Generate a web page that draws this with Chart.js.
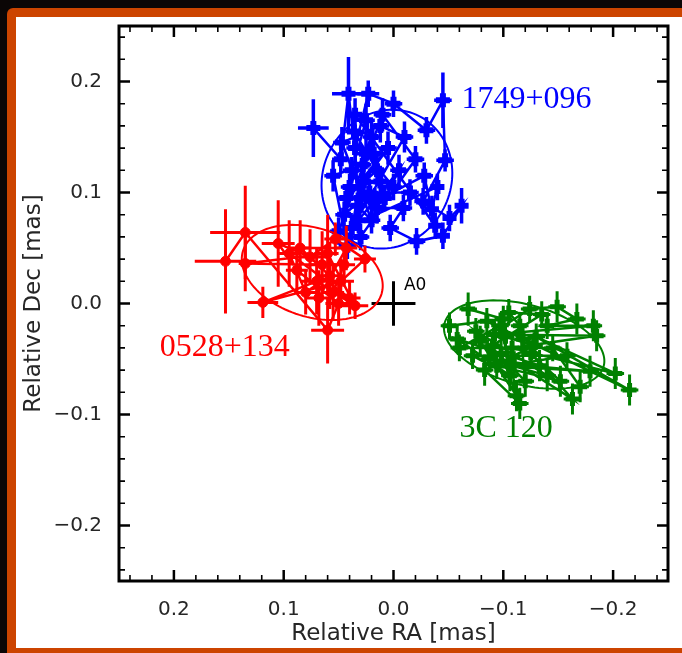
<!DOCTYPE html>
<html>
<head>
<meta charset="utf-8">
<script src="https://cdn.jsdelivr.net/npm/chart.js@4.4.0/dist/chart.umd.min.js"></script>
<style>
  html, body { margin: 0; padding: 0; width: 682px; height: 653px; overflow: hidden; background: #0b0606; }
  #frame { position: absolute; left: 7px; top: 8px; width: 700px; height: 660px; background: #cc4400; border-radius: 6px; }
  #inner { position: absolute; left: 9px; top: 9px; width: 700px; height: 631px; background: #fff; }
  #myChart { position: absolute; left: 0; top: 0; }
</style>
</head>
<body>
<div id="frame"><div id="inner"></div></div>
<canvas id="myChart" width="682" height="653"></canvas>
<script>
// tick labels (mas)
const tickValues = [-0.2, -0.1, 0.0, 0.1, 0.2];

// 0528+134 (red)
const redRA     = [0.153, 0.135, 0.060, 0.050, 0.088, 0.105, 0.076, 0.053, 0.026, 0.048, 0.119, 0.070, 0.035, 0.060, 0.135, 0.065, 0.045, 0.055, 0.040, 0.095, 0.080, 0.058, 0.085, 0.043, 0.068];
const redDec    = [0.038, 0.064, -0.024, 0.000, 0.030, 0.054, 0.042, 0.058, 0.040, 0.020, 0.001, 0.020, -0.002, 0.045, 0.036, 0.035, 0.035, 0.010, 0.005, 0.045, 0.010, 0.025, 0.050, 0.050, 0.005];
const redRAErr  = [0.028, 0.032, 0.015, 0.012, 0.010, 0.015, 0.015, 0.010, 0.010, 0.012, 0.014, 0.015, 0.012, 0.010, 0.006, 0.012, 0.010, 0.010, 0.010, 0.010, 0.010, 0.012, 0.010, 0.010, 0.012];
const redDecErr = [0.047, 0.042, 0.030, 0.020, 0.020, 0.039, 0.025, 0.015, 0.012, 0.020, 0.014, 0.030, 0.012, 0.035, 0.025, 0.030, 0.020, 0.025, 0.015, 0.030, 0.020, 0.030, 0.025, 0.020, 0.025];

// 1749+096 (blue)
const blueRA     = [0.073, 0.048, 0.041, 0.035, 0.023, 0.000, -0.030, -0.045, -0.047, -0.027, -0.051, -0.062, -0.045, -0.021, 0.003, -0.009, 0.015, 0.030, 0.042, 0.055, 0.028, 0.020, 0.040, 0.012, 0.025, 0.038, 0.018, 0.008, -0.005, 0.032, 0.045, 0.022, -0.015, -0.035, -0.040, 0.050, 0.010, -0.020, 0.030, 0.036, 0.015, 0.043, 0.005, 0.027, 0.033, 0.020, 0.047, 0.012, -0.010, 0.038, 0.025, 0.000, 0.017, -0.028, -0.038, 0.035];
const blueDec    = [0.158, 0.130, 0.189, 0.140, 0.189, 0.180, 0.156, 0.183, 0.129, 0.092, 0.077, 0.088, 0.061, 0.056, 0.068, 0.086, 0.086, 0.095, 0.052, 0.115, 0.125, 0.150, 0.105, 0.110, 0.165, 0.120, 0.135, 0.095, 0.120, 0.075, 0.080, 0.100, 0.100, 0.085, 0.105, 0.065, 0.170, 0.130, 0.060, 0.155, 0.120, 0.095, 0.140, 0.110, 0.088, 0.075, 0.145, 0.160, 0.150, 0.068, 0.135, 0.105, 0.092, 0.115, 0.070, 0.170];
const blueRAErr  = [0.014, 0.008, 0.015, 0.008, 0.010, 0.008, 0.008, 0.008, 0.008, 0.008, 0.006, 0.006, 0.006, 0.008, 0.008, 0.008, 0.008, 0.008, 0.008, 0.008, 0.008, 0.008, 0.008, 0.008, 0.008, 0.008, 0.008, 0.008, 0.008, 0.008, 0.008, 0.008, 0.008, 0.006, 0.006, 0.008, 0.008, 0.008, 0.008, 0.008, 0.008, 0.008, 0.008, 0.008, 0.008, 0.008, 0.008, 0.008, 0.008, 0.008, 0.008, 0.008, 0.008, 0.008, 0.006, 0.008];
const blueDecErr = [0.026, 0.012, 0.033, 0.015, 0.012, 0.012, 0.012, 0.025, 0.010, 0.012, 0.012, 0.016, 0.012, 0.012, 0.012, 0.012, 0.014, 0.012, 0.012, 0.014, 0.015, 0.015, 0.012, 0.014, 0.015, 0.012, 0.015, 0.012, 0.014, 0.012, 0.012, 0.012, 0.012, 0.012, 0.012, 0.012, 0.015, 0.012, 0.012, 0.015, 0.014, 0.012, 0.015, 0.014, 0.012, 0.012, 0.014, 0.015, 0.014, 0.012, 0.014, 0.012, 0.012, 0.012, 0.012, 0.015];

// 3C 120 (green)
const greenRA     = [-0.068, -0.100, -0.051, -0.085, -0.118, -0.215, -0.130, -0.202, -0.108, -0.185, -0.092, -0.182, -0.140, -0.167, -0.149, -0.124, -0.079, -0.112, -0.098, -0.163, -0.125, -0.152, -0.094, -0.179, -0.110, -0.158, -0.072, -0.106, -0.058, -0.133, -0.087, -0.140, -0.075, -0.120, -0.115, -0.105, -0.135, -0.090, -0.102, -0.128, -0.083, -0.115, -0.097, -0.060, -0.145, -0.170];
const greenDec    = [-0.005, -0.014, -0.020, -0.016, -0.032, -0.078, -0.030, -0.063, -0.040, -0.029, -0.028, -0.020, -0.020, -0.014, -0.003, -0.005, -0.034, -0.083, -0.045, -0.086, -0.045, -0.070, -0.056, -0.061, -0.055, -0.047, -0.047, -0.065, -0.032, -0.056, -0.050, -0.065, -0.025, -0.070, -0.020, -0.008, -0.010, -0.038, -0.030, -0.038, -0.060, -0.090, -0.020, -0.040, -0.040, -0.075];
const greenRAErr  = [0.008, 0.008, 0.008, 0.008, 0.008, 0.008, 0.008, 0.008, 0.008, 0.008, 0.008, 0.008, 0.008, 0.008, 0.008, 0.008, 0.008, 0.008, 0.008, 0.008, 0.008, 0.008, 0.008, 0.008, 0.008, 0.008, 0.008, 0.008, 0.008, 0.008, 0.008, 0.008, 0.008, 0.008, 0.008, 0.008, 0.008, 0.008, 0.008, 0.008, 0.008, 0.008, 0.008, 0.008, 0.008, 0.008];
const greenDecErr = [0.015, 0.012, 0.012, 0.012, 0.014, 0.014, 0.012, 0.014, 0.014, 0.014, 0.012, 0.014, 0.012, 0.014, 0.014, 0.012, 0.014, 0.014, 0.012, 0.014, 0.012, 0.014, 0.012, 0.014, 0.012, 0.012, 0.012, 0.014, 0.012, 0.014, 0.012, 0.014, 0.012, 0.014, 0.012, 0.012, 0.012, 0.012, 0.012, 0.012, 0.014, 0.014, 0.012, 0.012, 0.012, 0.014];

// fitted ellipses: red, blue, green
const ellipseRA    = [0.074, 0.006, -0.119];
const ellipseDec   = [0.028, 0.112, -0.037];
const ellipseMajor = [0.066, 0.064, 0.075];
const ellipseMinor = [0.040, 0.058, 0.036];
const ellipseAngle = [17, 120, 15];

// source labels
const sourceNames = ['0528+134', '1749+096', '3C 120'];
const labelRA     = [0.213, -0.062, -0.060];
const labelDec    = [-0.040, 0.184, -0.113];
const sourceColors = ['#ff0000', '#0000ff', '#008000'];

const toPoints = (ra, dec) => ra.map((v, i) => ({ x: v, y: dec[i] }));
const fmt = (v) => Number(v).toFixed(1).replace('-', '\u2212');
const ink = '#262626';

const errorBars = {
    id: 'errorBars',
    beforeDatasetDraw(chart, args) {
        const ds = chart.data.datasets[args.index];
        const xs = chart.scales.x, ys = chart.scales.y, ctx = chart.ctx, a = chart.chartArea;
        ctx.save();
        ctx.beginPath();
        ctx.rect(a.left, a.top, a.right - a.left, a.bottom - a.top);
        ctx.clip();
        ctx.strokeStyle = ds.borderColor;
        ctx.lineWidth = ds.errWidth;
        ds.data.forEach((p, i) => {
            const px = xs.getPixelForValue(p.x), py = ys.getPixelForValue(p.y);
            ctx.beginPath();
            ctx.moveTo(xs.getPixelForValue(p.x - ds.xErr[i]), py);
            ctx.lineTo(xs.getPixelForValue(p.x + ds.xErr[i]), py);
            ctx.moveTo(px, ys.getPixelForValue(p.y - ds.yErr[i]));
            ctx.lineTo(px, ys.getPixelForValue(p.y + ds.yErr[i]));
            ctx.stroke();
        });
        if (ds.ellipse !== undefined) {
            const k = ds.ellipse;
            const th = ellipseAngle[k] * Math.PI / 180;
            ctx.lineWidth = 2;
            ctx.beginPath();
            for (let t = 0; t <= 360; t += 3) {
                const r = t * Math.PI / 180;
                const ex = ellipseRA[k] + ellipseMajor[k] * Math.cos(th) * Math.cos(r) - ellipseMinor[k] * Math.sin(th) * Math.sin(r);
                const ey = ellipseDec[k] + ellipseMajor[k] * Math.sin(th) * Math.cos(r) + ellipseMinor[k] * Math.cos(th) * Math.sin(r);
                const X = xs.getPixelForValue(ex), Y = ys.getPixelForValue(ey);
                if (t === 0) ctx.moveTo(X, Y); else ctx.lineTo(X, Y);
            }
            ctx.closePath();
            ctx.stroke();
        }
        ctx.restore();
    }
};

const frameAndLabels = {
    id: 'frameAndLabels',
    afterDatasetsDraw(chart) {
        const xs = chart.scales.x, ys = chart.scales.y, ctx = chart.ctx, a = chart.chartArea;
        ctx.save();
        ctx.textBaseline = 'middle';
        ctx.textAlign = 'left';
        ctx.font = '32px "Liberation Serif"';
        sourceNames.forEach((name, i) => {
            ctx.fillStyle = sourceColors[i];
            ctx.fillText(name, xs.getPixelForValue(labelRA[i]), ys.getPixelForValue(labelDec[i]));
        });
        ctx.fillStyle = '#000';
        ctx.font = '17px "DejaVu Sans"';
        ctx.fillText('A0', xs.getPixelForValue(-0.0095), ys.getPixelForValue(0.016));

        // inward ticks on all four sides
        ctx.strokeStyle = '#000';
        for (let i = -12; i <= 12; i++) {
            const v = i * 0.02;
            const major = tickValues.some(t => Math.abs(t - v) < 1e-9);
            const len = major ? 11 : 6;
            ctx.lineWidth = major ? 2.5 : 1.6;
            const px = xs.getPixelForValue(v), py = ys.getPixelForValue(v);
            ctx.beginPath();
            ctx.moveTo(px, a.bottom); ctx.lineTo(px, a.bottom - len);
            ctx.moveTo(px, a.top); ctx.lineTo(px, a.top + len);
            ctx.moveTo(a.left, py); ctx.lineTo(a.left + len, py);
            ctx.moveTo(a.right, py); ctx.lineTo(a.right - len, py);
            ctx.stroke();
        }
        ctx.lineWidth = 3;
        ctx.strokeRect(a.left, a.top, a.right - a.left, a.bottom - a.top);
        ctx.restore();
    }
};

const axisFont = { family: 'DejaVu Sans', size: 20 };
const titleFont = { family: 'DejaVu Sans', size: 23 };

const ctx = document.getElementById('myChart').getContext('2d');
const myChart = new Chart(ctx, {
    type: 'scatter',
    data: {
        datasets: [{
            label: '0528+134',
            data: toPoints(redRA, redDec),
            xErr: redRAErr, yErr: redDecErr, errWidth: 3, ellipse: 0,
            borderColor: '#ff0000', backgroundColor: '#ff0000',
            showLine: true, borderWidth: 2.5,
            pointStyle: 'circle', pointRadius: 5, pointBorderWidth: 1
        }, {
            label: '1749+096',
            data: toPoints(blueRA, blueDec),
            xErr: blueRAErr, yErr: blueDecErr, errWidth: 3.5, ellipse: 1,
            borderColor: '#0000ff', backgroundColor: '#0000ff',
            showLine: true, borderWidth: 2.5,
            pointStyle: 'cross', pointRadius: 7, pointBorderWidth: 6
        }, {
            label: '3C 120',
            data: toPoints(greenRA, greenDec),
            xErr: greenRAErr, yErr: greenDecErr, errWidth: 3, ellipse: 2,
            borderColor: '#008000', backgroundColor: '#008000',
            showLine: true, borderWidth: 2.5,
            pointStyle: 'cross', pointRadius: 7, pointBorderWidth: 5
        }, {
            label: 'A0',
            data: [{ x: 0, y: 0 }],
            xErr: [0.02], yErr: [0.02], errWidth: 3,
            borderColor: '#000', backgroundColor: '#000',
            pointRadius: 0
        }]
    },
    options: {
        responsive: false,
        animation: false,
        layout: { padding: { left: 0, right: 14, top: 26, bottom: 0 } },
        plugins: { legend: { display: false }, tooltip: { enabled: false } },
        scales: {
            x: {
                type: 'linear', reverse: true, min: -0.25, max: 0.25,
                grid: { display: false }, border: { display: false },
                afterBuildTicks: (s) => { s.ticks = tickValues.map(v => ({ value: v })); },
                afterFit: (s) => { s.height = 72; },
                ticks: { padding: 9, color: ink, font: axisFont, callback: fmt, maxRotation: 0, autoSkip: false },
                title: { display: true, text: 'Relative RA [mas]', color: ink, font: titleFont, padding: { top: 0, bottom: 5 } }
            },
            y: {
                type: 'linear', min: -0.25, max: 0.25,
                grid: { display: false }, border: { display: false },
                afterBuildTicks: (s) => { s.ticks = tickValues.map(v => ({ value: v })); },
                afterFit: (s) => { s.width = 119; },
                ticks: { padding: 9, color: ink, font: axisFont, callback: fmt, autoSkip: false },
                title: { display: true, text: 'Relative Dec [mas]', color: ink, font: titleFont, padding: { top: 20, bottom: 0 } }
            }
        }
    },
    plugins: [errorBars, frameAndLabels]
});
</script>
</body>
</html>
